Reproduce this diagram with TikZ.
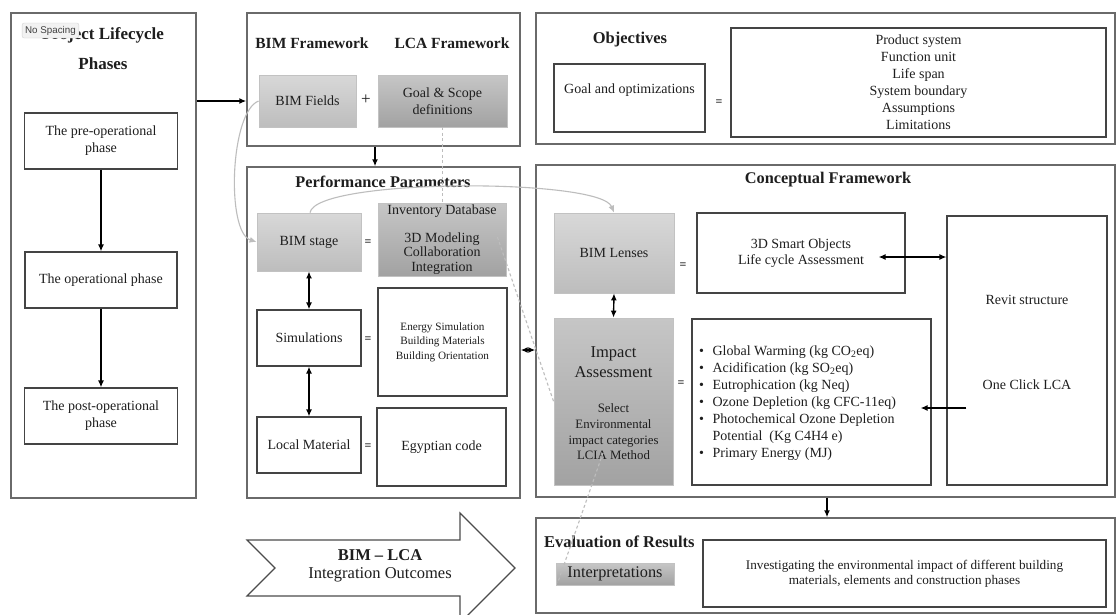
\documentclass[tikz,border=0pt]{standalone}
\usepackage{fontspec}
\setmainfont{Liberation Serif}
\newfontfamily\uifont{Liberation Sans}
\usetikzlibrary{arrows.meta,calc}
\definecolor{ink}{HTML}{1E1E1E}
\definecolor{outerc}{HTML}{6A6A6A}
\definecolor{boxc}{HTML}{444444}
\definecolor{gborder}{HTML}{C2C2C2}
\definecolor{gl1}{HTML}{D8D8D8}
\definecolor{gl2}{HTML}{BDBDBD}
\definecolor{gd1}{HTML}{C6C6C6}
\definecolor{gd2}{HTML}{A2A2A2}
\definecolor{lgc}{HTML}{BDBDBD}
\tikzset{
  outer/.style={draw=outerc, line width=1.4pt, rectangle, inner sep=0pt},
  wbox/.style={draw=boxc, line width=1.1pt, fill=white, rectangle, inner sep=0pt, align=center, text=ink, font=\fontsize{14}{17}\selectfont},
  lgrey/.style={draw=gborder, line width=0.8pt, top color=gl1, bottom color=gl2, rectangle, inner sep=0pt, align=center, text=ink, font=\fontsize{14}{17}\selectfont},
  dgrey/.style={draw=gborder, line width=0.8pt, top color=gd1, bottom color=gd2, rectangle, inner sep=0pt, align=center, text=ink, font=\fontsize{14}{17}\selectfont},
  txt/.style={text=ink, align=center, inner sep=0pt, font=\fontsize{14}{17}\selectfont},
  ttl/.style={text=ink, inner sep=0pt, font=\bfseries\fontsize{16.3}{19}\selectfont},
  eqs/.style={text=ink, inner sep=0pt, font=\bfseries\fontsize{12}{12}\selectfont},
  arr/.style={-{Latex[length=7pt,width=6pt]}, line width=1.4pt, draw=black},
  dbl/.style={{Latex[length=7pt,width=6pt]}-{Latex[length=7pt,width=6pt]}, line width=1.4pt, draw=black},
  garr/.style={-{Latex[length=7pt,width=6pt]}, line width=1.1pt, draw=lgc},
  gdash/.style={line width=1.1pt, draw=lgc, dash pattern=on 3pt off 2.5pt},
}
\begin{document}
\begin{tikzpicture}[x=1pt,y=-1pt]
\useasboundingbox (0,0) rectangle (1117,614);
\fill[white] (0,0) rectangle (1117,614);

% ---------- Project lifecycle phases ----------
\node[outer, minimum width=185pt, minimum height=485pt] (phases) at (103.5,255.5) {};
\node[text=ink, align=center, inner sep=0pt, font=\bfseries\fontsize{17}{30}\selectfont] (phtitle) at (103,49) {Project Lifecycle\\Phases};
\node[draw=black!18, fill=black!5, rounded corners=2pt, inner xsep=3pt, inner ysep=0pt, minimum height=15pt, text=black!75, font=\uifont\fontsize{9.8}{10}\selectfont] (nospace) at (50.5,30.5) {No Spacing};
\node[wbox, minimum width=153pt, minimum height=56pt] (pre) at (101,141) {The pre-operational\\phase};
\node[wbox, minimum width=152pt, minimum height=56pt] (op) at (101,280) {The operational phase};
\node[wbox, minimum width=153pt, minimum height=56pt] (post) at (101,416) {The post-operational\\phase};
\draw[arr] (pre.south) -- (pre.south |- op.north);
\draw[arr] (op.south) -- (op.south |- post.north);

% ---------- BIM / LCA framework ----------
\node[outer, minimum width=273pt, minimum height=133pt] (bimfw) at (383.5,79.5) {};
\node[ttl, font=\bfseries\fontsize{15.5}{18}\selectfont] (bimfwt) at (312,43) {BIM Framework};
\node[ttl, font=\bfseries\fontsize{15.5}{18}\selectfont] (lcafwt) at (452,43) {LCA Framework};
\node[lgrey, minimum width=97pt, minimum height=52pt] (bimfields) at (307.5,101) {BIM Fields};
\node[text=ink, inner sep=0pt, font=\fontsize{17}{17}\selectfont] (plus) at (366,100) {+};
\node[dgrey, minimum width=129pt, minimum height=52pt] (goal) at (442.5,101) {Goal \& Scope\\definitions};
\draw[arr] (phases.east |- bimfields.west) -- (bimfw.west |- bimfields.west);

% ---------- Performance parameters ----------
\node[outer, minimum width=273pt, minimum height=331pt] (perf) at (383.5,332.5) {};
\node[ttl] (perft) at (383,182) {Performance Parameters};
\draw[arr] ([xshift=-8.5pt]bimfw.south) -- ([xshift=-8.5pt]perf.north);
\node[lgrey, minimum width=104pt, minimum height=58pt] (bimstage) at (309,242) {BIM stage};
\node[eqs] (eq1) at (368,243) {=};
\node[dgrey, minimum width=128pt, minimum height=73pt, font=\fontsize{14}{14.5}\selectfont] (inventory) at (442,239.5) {Inventory Database\\[13.5pt]3D Modeling\\Collaboration\\Integration};
\node[wbox, minimum width=104pt, minimum height=56pt] (sims) at (309,338) {Simulations};
\node[eqs] (eq2) at (368,340) {=};
\node[wbox, minimum width=129pt, minimum height=108pt, font=\fontsize{11.2}{14.5}\selectfont] (energy) at (442.5,342) {Energy Simulation\\Building Materials\\Building Orientation};
\node[wbox, minimum width=104pt, minimum height=56pt] (local) at (309,445) {Local Material};
\node[eqs] (eq3) at (368,447) {=};
\node[wbox, minimum width=129pt, minimum height=78pt] (egypt) at (441.5,447) {Egyptian code};
\draw[dbl] (bimstage.south) -- (sims.north);
\draw[dbl] (sims.south) -- (local.north);

% ---------- Objectives ----------
\node[outer, minimum width=579pt, minimum height=131pt] (objbox) at (825.5,78.5) {};
\node[ttl, font=\bfseries\fontsize{16.5}{19}\selectfont] (objt) at (630,40) {Objectives};
\node[wbox, minimum width=151pt, minimum height=68pt] (goalopt) at (629.5,98) {};
\node[txt] (goaloptt) at (629.5,90) {Goal and optimizations};
\node[eqs] (eq4) at (719,103) {=};
\node[wbox, minimum width=375pt, minimum height=109pt] (objlist) at (918.5,82.5) {Product system\\Function unit\\Life span\\System boundary\\Assumptions\\Limitations};

% ---------- Conceptual framework ----------
\node[outer, minimum width=579pt, minimum height=332pt] (concept) at (825.5,331) {};
\node[ttl] (conceptt) at (828,180) {Conceptual Framework};
\node[lgrey, minimum width=120pt, minimum height=80pt] (lenses) at (614,253) {BIM Lenses};
\node[eqs] (eq5) at (683,266) {=};
\node[wbox, minimum width=208pt, minimum height=80pt, font=\fontsize{14}{16}\selectfont] (smart) at (801,253) {3D Smart Objects\\Life cycle Assessment};
\node[wbox, minimum width=160pt, minimum height=269pt] (revit) at (1027,350.5) {};
\node[txt] (revitt) at (1027,300) {Revit structure};
\node[txt] (oneclick) at (1027,385) {One Click LCA};
\node[dgrey, minimum width=119pt, minimum height=167pt] (impact) at (613.5,401.5) {};
\node[txt, font=\fontsize{16.5}{20}\selectfont] (impactt) at (613.5,362) {Impact\\Assessment};
\node[txt, font=\fontsize{12.8}{15.7}\selectfont] (impacts) at (613.5,432) {Select\\Environmental\\impact categories\\LCIA Method};
\node[eqs] (eq6) at (681,384) {=};
\node[wbox, minimum width=239pt, minimum height=166pt] (list) at (811.5,402) {};
\node[text=ink, inner sep=0pt, anchor=west, font=\fontsize{14}{16.9}\selectfont] (listt) at (699,403) {%
\begin{tabular}{@{}l@{\hspace{8.5pt}}l@{}}
\textbullet & Global Warming (kg CO\textsubscript{2}eq)\\
\textbullet & Acidification (kg SO\textsubscript{2}eq)\\
\textbullet & Eutrophication (kg Neq)\\
\textbullet & Ozone Depletion (kg CFC-11eq)\\
\textbullet & Photochemical Ozone Depletion\\
 & Potential\ \ (Kg C4H4 e)\\
\textbullet & Primary Energy (MJ)
\end{tabular}};
\draw[dbl] (lenses.south) -- (impact.north);
\coordinate (s1) at ([xshift=-27pt,yshift=-4pt]smart.east);
\draw[dbl] (s1) -- (s1 -| revit.west);
\coordinate (l1) at ([xshift=-11pt,yshift=-6pt]list.east);
\coordinate (r1) at ([xshift=20pt]revit.west |- l1);
\draw[arr] (r1) -- (l1);
\draw[dbl] ([yshift=-17.5pt]perf.east) -- ([yshift=-19pt]concept.west);

% ---------- Evaluation of results ----------
\node[outer, minimum width=579pt, minimum height=95pt] (eval) at (825.5,565.5) {};
\draw[arr] ([xshift=1.5pt]concept.south) -- ([xshift=1.5pt]eval.north);
\node[ttl, anchor=west, font=\bfseries\fontsize{16.5}{19}\selectfont] (evalt) at (544,542) {Evaluation of Results};
\node[dgrey, minimum width=118pt, minimum height=22pt, font=\fontsize{16.3}{18}\selectfont] (interp) at (615,574) {Interpretations};
\node[wbox, minimum width=403pt, minimum height=67pt, font=\fontsize{13.2}{15.5}\selectfont] (invest) at (904.5,573.5) {Investigating the environmental impact of different building\\materials, elements and construction phases};

% ---------- BIM-LCA outcome arrow ----------
\begin{scope}
\clip (0,0) rectangle (1117,614);
\draw[draw=black!70, line width=1.1pt, fill=white] (247,540) -- (460,540) -- (460,513) -- (515,568) -- (460,623) -- (460,596) -- (247,596) -- (275,568) -- cycle;
\end{scope}
\node[txt, font=\fontsize{16.5}{18}\selectfont] (outcome) at (380,566) {\textbf{BIM -- LCA}\\Integration Outcomes};

% ---------- grey connectors ----------
\draw[garr] (bimfields.west) .. controls (230,112) and (226,232) .. (bimstage.west);
\draw[garr] ([xshift=1pt]bimstage.north) .. controls (316,178) and (600,178) .. (lenses.north);
\draw[gdash] (goal.south) -- (goal.south |- inventory.north);
\draw[gdash] ([xshift=-9pt,yshift=2.5pt]inventory.east) -- (impact.west);
\draw[gdash] ([xshift=-10.5pt,yshift=-51.5pt]impact.center) -- ([xshift=2pt,yshift=-9pt]interp.west);
\end{tikzpicture}
\end{document}
